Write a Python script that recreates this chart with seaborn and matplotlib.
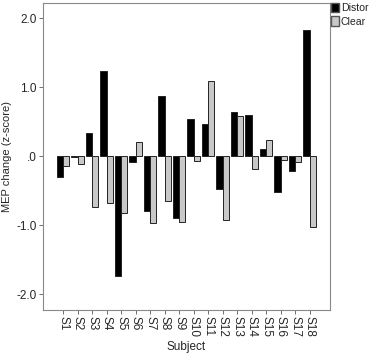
import matplotlib
matplotlib.use("Agg")
import matplotlib.pyplot as plt
import seaborn as sns
import pandas as pd
from matplotlib.ticker import FuncFormatter
from matplotlib.patches import Patch

subjects = [f"S{i}" for i in range(1, 19)]
distor = [-0.30, -0.01, 0.33, 1.23, -1.73, -0.08, -0.80, 0.87, -0.89, 0.54,
          0.47, -0.47, 0.64, 0.59, 0.11, -0.52, -0.22, 1.83]
clear = [-0.14, -0.12, -0.74, -0.68, -0.83, 0.20, -0.97, -0.65, -0.95, -0.07,
         1.09, -0.92, 0.58, -0.18, 0.23, -0.06, -0.09, -1.03]
conditions = ["Distor", "Clear"]
colors = {"Distor": "#000000", "Clear": "#c8c8c8"}

df = pd.DataFrame({
    "Subject": subjects * 2,
    "value": distor + clear,
    "cond": ["Distor"] * len(subjects) + ["Clear"] * len(subjects),
})

sns.set_style("white")
plt.rcParams["font.family"] = ["Liberation Sans", "DejaVu Sans"]

fig = plt.figure(figsize=(3.71, 3.58), dpi=100)
ax = fig.add_axes([0.116, 0.134, 0.773, 0.858])
sns.barplot(data=df, x="Subject", y="value", hue="cond", hue_order=conditions,
            palette=colors, width=0.88, gap=0, ax=ax, legend=False,
            edgecolor="#222222", linewidth=0.7)

ax.set_ylim(-2.23, 2.22)
ax.set_xlim(-1.38, 18.4)
ax.set_yticks([-2, -1, 0, 1, 2])
def fmt(v, pos):
    if abs(v) < 1e-9:
        return ".0"
    return f"{v:.1f}"
ax.yaxis.set_major_formatter(FuncFormatter(fmt))
ax.tick_params(axis="both", labelsize=8.5, length=3, width=0.6, color="#555555",
               direction="out", left=True, bottom=True, pad=1.5)
plt.setp(ax.get_xticklabels(), rotation=270)
ax.set_xlabel("Subject", fontsize=8.5, labelpad=3)
ax.set_ylabel("MEP change (z-score)", fontsize=8, labelpad=3)
for s in ax.spines.values():
    s.set_color("#888888")
    s.set_linewidth(0.8)

handles = [Patch(facecolor=colors[c], edgecolor="#555555", label=c) for c in conditions]
fig.legend(handles=handles, loc="upper left", bbox_to_anchor=(0.889, 0.995),
           frameon=False, fontsize=7.6, handlelength=0.75, handleheight=1.0,
           handletextpad=0.2, borderaxespad=0, borderpad=0.1, labelspacing=0.3)

fig.savefig("out.png", dpi=100)
